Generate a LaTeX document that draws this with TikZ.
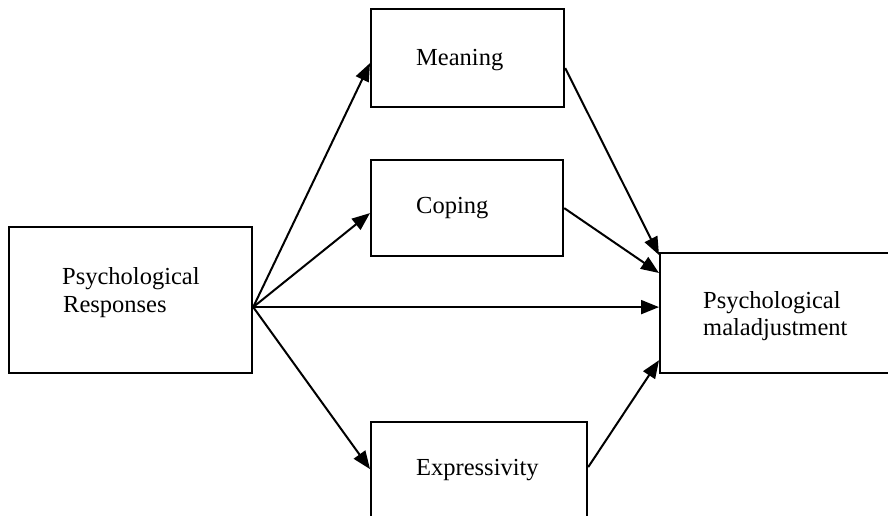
\documentclass[tikz,border=0pt]{standalone}
\usepackage{fontspec}
\setmainfont{Liberation Serif}
\usetikzlibrary{arrows.meta,calc}

\tikzset{
  box/.style={draw=black, line width=2.2pt, rectangle, inner sep=0pt, anchor=north west},
  lbl/.style={inner sep=0pt, anchor=base west, font=\fontsize{24.5}{28}\selectfont},
  link/.style={draw=black, line width=2pt, -{Triangle[length=18pt,width=14pt]}}
}

\begin{document}
\begin{tikzpicture}[x=1pt, y=-1pt]
  \useasboundingbox (0,0) rectangle (888,516);
  \clip (0,0) rectangle (888,516);

  % boxes
  \node[box, minimum width=243pt, minimum height=146pt] (resp) at (8,226) {};
  \node[box, minimum width=193pt, minimum height=98pt]  (mean) at (370,8) {};
  \node[box, minimum width=192pt, minimum height=96pt]  (cope) at (370,159) {};
  \node[box, minimum width=216pt, minimum height=110pt] (expr) at (370,421) {};
  \node[box, minimum width=260pt, minimum height=120pt] (mal)  at (659,252) {};

  % labels
  \node[lbl] (respA) at (62,284) {Psychological};
  \node[lbl] (respB) at (63,312) {Responses};
  \node[lbl] (meanT) at (416,66) {Meaning};
  \node[lbl] (copeT) at (416,213) {Coping};
  \node[lbl] (exprT) at (416,475) {Expressivity};
  \node[lbl] (malA)  at (703,308) {Psychological};
  \node[lbl] (malB)  at (703,335) {maladjustment};

  % connector end points on the box borders
  \coordinate (src)    at ([yshift=-7pt]resp.east);
  \coordinate (meanIn) at ([yshift=-5pt]mean.west);
  \coordinate (copeIn) at ([yshift=-5pt]cope.west);
  \coordinate (exprIn) at ([yshift=8pt]expr.west);
  \coordinate (meanOut) at ([yshift=-10pt]mean.east);
  \coordinate (copeOut) at (cope.east);
  \coordinate (exprOut) at ([yshift=10pt]expr.east);
  \coordinate (malA1) at ([yshift=-3pt]mal.north west);
  \coordinate (malA2) at ([yshift=-21pt]mal.north west);
  \coordinate (malA3) at (src -| mal.west);
  \coordinate (malA4) at ([yshift=14pt]mal.south west);

  % connectors
  \draw[link] (src) -- (meanIn);
  \draw[link] (src) -- (copeIn);
  \draw[link] (src) -- (malA3);
  \draw[link] (src) -- (exprIn);
  \draw[link] (meanOut) -- (malA1);
  \draw[link] (copeOut) -- (malA2);
  \draw[link] (exprOut) -- (malA4);
\end{tikzpicture}
\end{document}
